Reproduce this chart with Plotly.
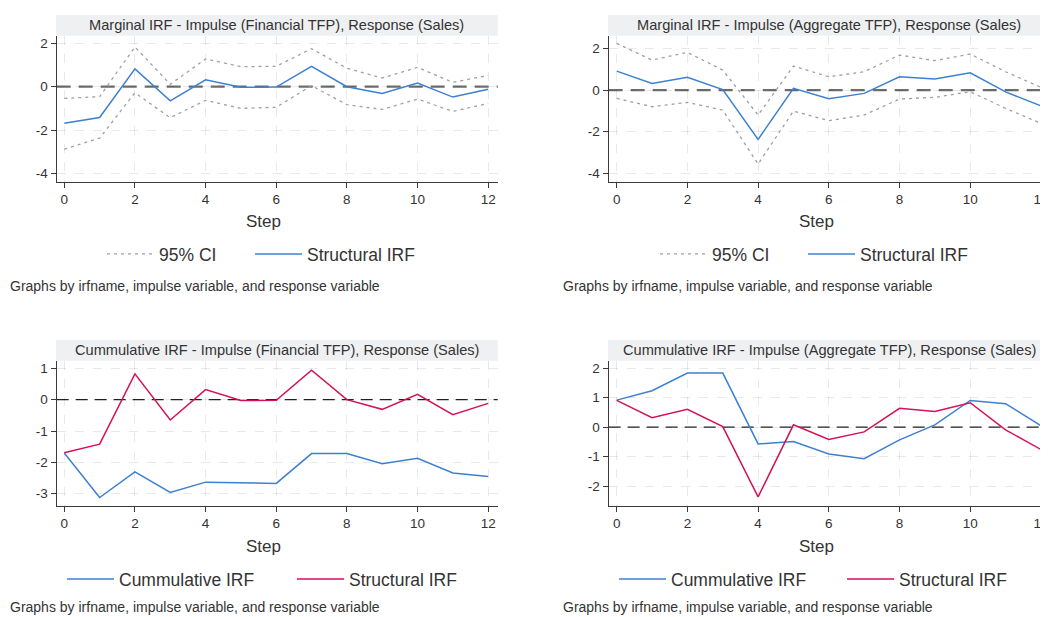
import plotly.graph_objects as go

# page body has an 8px margin: figure is sized to fill the rest of the 1048x617 window
OFF = 8
W, H = 1048 - OFF, 617 - OFF

steps = list(range(13))

# Panel 1: Marginal IRF, impulse Financial TFP
fin_irf = [-1.69, -1.42, 0.82, -0.65, 0.32, -0.03, -0.02, 0.94, 0.0, -0.31, 0.17, -0.48, -0.12]
fin_ci_up = [-0.54, -0.46, 1.83, 0.11, 1.28, 0.92, 0.94, 1.75, 0.85, 0.40, 0.89, 0.20, 0.52]
fin_ci_lo = [-2.88, -2.37, -0.28, -1.43, -0.63, -1.00, -0.95, 0.05, -0.83, -1.05, -0.57, -1.14, -0.77]

# Panel 2: Marginal IRF, impulse Aggregate TFP
agg_irf = [0.91, 0.32, 0.61, 0.02, -2.37, 0.08, -0.42, -0.16, 0.64, 0.53, 0.83, -0.09, -0.76]
agg_ci_up = [2.24, 1.44, 1.81, 0.96, -1.20, 1.15, 0.64, 0.88, 1.68, 1.41, 1.73, 0.88, 0.13]
agg_ci_lo = [-0.40, -0.80, -0.59, -0.96, -3.55, -1.01, -1.47, -1.20, -0.43, -0.35, -0.08, -0.88, -1.60]

# Panel 3: Cumulative IRF, Financial TFP
fin_cirf = [-1.70, -3.12, -2.30, -2.96, -2.63, -2.65, -2.67, -1.72, -1.72, -2.04, -1.87, -2.34, -2.45]
# Panel 4: Cumulative IRF, Aggregate TFP
agg_cirf = [0.92, 1.24, 1.84, 1.84, -0.57, -0.49, -0.91, -1.07, -0.43, 0.08, 0.91, 0.80, 0.05]

x_ticks = [0, 2, 4, 6, 8, 10, 12]
y_ticks_marg = [-4, -2, 0, 2]
y_ticks_fin_cum = [-3, -2, -1, 0, 1]
y_ticks_agg_cum = [-2, -1, 0, 1, 2]

titles = [
    "Marginal IRF - Impulse (Financial TFP), Response (Sales)",
    "Marginal IRF - Impulse (Aggregate TFP), Response (Sales)",
    "Cummulative IRF - Impulse (Financial TFP), Response (Sales)",
    "Cummulative IRF - Impulse (Aggregate TFP), Response (Sales)",
]
note_text = "Graphs by irfname, impulse variable, and response variable"

BLUE = "#3d80d0"
RED = "#d41159"
CI = "#a0a0a0"
FONT = "Arial, Liberation Sans, sans-serif"
TXT = "#333333"

def px_x(p):
    return (p - OFF) / W

def px_y(p):
    return 1 - (p - OFF) / H

# plot areas in window pixels (left, right, top, bottom)
areas = {
    1: (56.7, 497.7, 35.7, 181.7),
    2: (608.7, 1048, 35.7, 181.7),
    3: (56.7, 497.7, 360.7, 506.0),
    4: (608.7, 1048, 360.7, 506.0),
}
xranges = {1: [-0.215, 12.27], 2: [-0.226, 12.2], 3: [-0.215, 12.27], 4: [-0.226, 12.2]}
yranges = {1: [-4.38, 2.35], 2: [-4.40, 2.61], 3: [-3.39, 1.24], 4: [-2.68, 2.26]}
yticks = {1: y_ticks_marg, 2: y_ticks_marg, 3: y_ticks_fin_cum, 4: y_ticks_agg_cum}

# legend item line-start positions (window px) and row y
leg_pos = {
    1: ((107, 255), 254), 2: ((660, 808), 254),
    3: ((67, 297), 579), 4: ((619, 847), 579),
}

fig = go.Figure()

def ax(i):
    return ("x" if i == 1 else f"x{i}"), ("y" if i == 1 else f"y{i}")

def leg(i, k):
    n = 2 * (i - 1) + k + 1
    return "legend" if n == 1 else f"legend{n}"

for i, (up, lo, irf) in {1: (fin_ci_up, fin_ci_lo, fin_irf), 2: (agg_ci_up, agg_ci_lo, agg_irf)}.items():
    xa, ya = ax(i)
    fig.add_trace(go.Scatter(x=steps, y=up, mode="lines", name="95% CI", xaxis=xa, yaxis=ya,
                             line=dict(color=CI, width=1.3, dash="3px,4px"), legend=leg(i, 0),
                             legendgroup=f"ci{i}", showlegend=True))
    fig.add_trace(go.Scatter(x=steps, y=lo, mode="lines", name="95% CI", xaxis=xa, yaxis=ya,
                             line=dict(color=CI, width=1.3, dash="3px,4px"), legend=leg(i, 0),
                             legendgroup=f"ci{i}", showlegend=False))
    fig.add_trace(go.Scatter(x=steps, y=irf, mode="lines", name="Structural IRF", xaxis=xa, yaxis=ya,
                             line=dict(color=BLUE, width=1.5), legend=leg(i, 1)))

for i, (cirf, irf) in {3: (fin_cirf, fin_irf), 4: (agg_cirf, agg_irf)}.items():
    xa, ya = ax(i)
    fig.add_trace(go.Scatter(x=steps, y=cirf, mode="lines", name="Cummulative IRF", xaxis=xa, yaxis=ya,
                             line=dict(color=BLUE, width=1.5), legend=leg(i, 0)))
    fig.add_trace(go.Scatter(x=steps, y=irf, mode="lines", name="Structural IRF", xaxis=xa, yaxis=ya,
                             line=dict(color=RED, width=1.5), legend=leg(i, 1)))

layout = dict(
    width=W, height=H, margin=dict(l=0, r=0, t=0, b=0),
    paper_bgcolor="white", plot_bgcolor="white",
    font=dict(family=FONT, color=TXT),
    shapes=[], annotations=[],
)

for i in range(1, 5):
    l, r, t, b = areas[i]
    xa, ya = ax(i)
    xkey = "xaxis" if i == 1 else f"xaxis{i}"
    ykey = "yaxis" if i == 1 else f"yaxis{i}"
    common = dict(
        showline=True, linecolor="#3a3a3a", linewidth=1.4,
        ticks="outside", ticklen=5, tickcolor="#3a3a3a", tickwidth=1.2,
        showgrid=True, gridcolor="rgba(0,0,0,0.085)", griddash="dash", gridwidth=1,
        zeroline=False, tickfont=dict(size=13.5, color=TXT, family=FONT),
        ticklabeloverflow="allow",
    )
    layout[xkey] = dict(domain=[px_x(l), min(px_x(r), 1.0)], anchor=ya, range=xranges[i],
                        tickmode="array", tickvals=x_ticks, ticktext=[str(v) for v in x_ticks], **common)
    layout[ykey] = dict(domain=[px_y(b), px_y(t)], anchor=xa, range=yranges[i],
                        tickmode="array", tickvals=yticks[i], ticktext=[str(v) for v in yticks[i]], **common)
    # title strip
    layout["shapes"].append(dict(type="rect", xref="paper", yref="paper",
                                 x0=px_x(l - 0.7), x1=px_x(r + 0.1) if i in (1, 3) else 1.0,
                                 y0=px_y(t), y1=px_y(t - 20.7),
                                 fillcolor="#eff0f2", line=dict(width=0), layer="below"))
    cx = 276.5 if i in (1, 3) else 829
    layout["annotations"].append(dict(text=titles[i - 1], xref="paper", yref="paper",
                                      x=px_x(cx), y=px_y(t - 10.3), xanchor="center", yanchor="middle",
                                      showarrow=False, font=dict(size=14.6, color=TXT, family=FONT)))
    # zero reference line
    if i in (1, 2):
        zl = dict(color="#6e6e6e", width=2.2, dash="14px,8px")
    else:
        zl = dict(color="#222222", width=1.3, dash="12px,7px")
    layout["shapes"].append(dict(type="line", xref=f"{xa} domain", yref=ya,
                                 x0=0, x1=1, y0=0, y1=0, line=zl, layer="below"))
    # "Step" axis title
    sx = 263 if i in (1, 3) else 816
    sy = 221 if i in (1, 2) else 546.5
    layout["annotations"].append(dict(text="Step", xref="paper", yref="paper",
                                      x=px_x(sx), y=px_y(sy), xanchor="center", yanchor="middle",
                                      showarrow=False, font=dict(size=17, color=TXT, family=FONT)))
    # note
    nx = 8 if i in (1, 3) else 561
    ny = 286 if i in (1, 2) else 607
    layout["annotations"].append(dict(text=note_text, xref="paper", yref="paper",
                                      x=px_x(nx), y=px_y(ny), xanchor="left", yanchor="middle",
                                      showarrow=False, font=dict(size=14, color=TXT, family=FONT)))
    # legends: one per entry for exact placement
    (x_a, x_b), ly = leg_pos[i]
    for k, lx in enumerate((x_a, x_b)):
        layout[leg(i, k)] = dict(orientation="h", x=px_x(lx - 5), y=px_y(ly), xanchor="left",
                                 yanchor="middle", font=dict(size=17.5, color=TXT, family=FONT),
                                 bgcolor="rgba(0,0,0,0)", itemwidth=47, tracegroupgap=0)

fig.update_layout(**layout)
fig.write_html("out.html")
